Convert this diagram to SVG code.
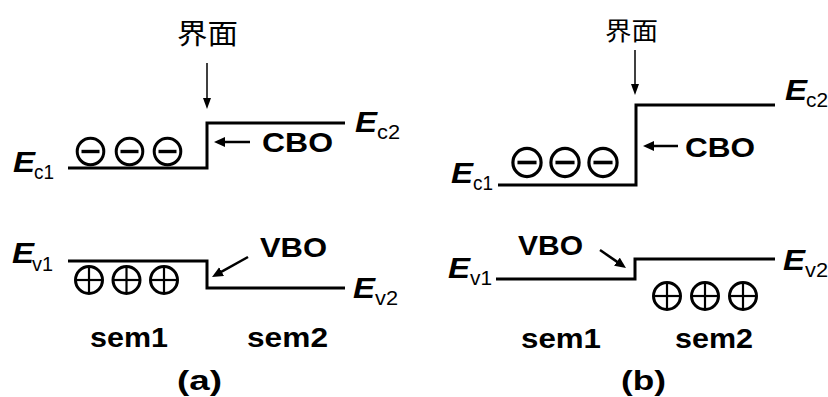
<svg xmlns="http://www.w3.org/2000/svg" width="828" height="397" viewBox="0 0 828 397">
<style>
.band{fill:none;stroke:#000;stroke-width:3;stroke-linejoin:miter}
.ptr{fill:none;stroke:#000;stroke-width:2.5}
.thin{fill:none;stroke:#000;stroke-width:1.5}
.E{font-family:"Liberation Sans",Arial,sans-serif;font-weight:bold;font-style:italic;font-size:30px;fill:#000}
.sub{font-family:"Liberation Sans",Arial,sans-serif;font-size:20px;fill:#000}
.lbl{font-family:"Liberation Sans",Arial,sans-serif;font-weight:bold;font-size:28px;fill:#000}
.cjk{font-family:"Noto Sans CJK SC","Noto Sans CJK JP",sans-serif;fill:#000}
.ring{fill:none;stroke:#000;stroke-width:3}
.minus{stroke:#000;stroke-width:3.4}
.plus{stroke:#000;stroke-width:2.2}
</style>
<defs>
<marker id="ahBig" markerUnits="userSpaceOnUse" markerWidth="12" markerHeight="11" refX="3" refY="5" orient="auto">
<path d="M0,0 L11,5 L0,10 z" fill="#000"/>
</marker>
<marker id="ahThin" markerUnits="userSpaceOnUse" markerWidth="12" markerHeight="9" refX="3" refY="4" orient="auto">
<path d="M0,0 L11,4 L0,8 z" fill="#000"/>
</marker>
<g id="neg">
<circle cx="0" cy="0" r="13.3" class="ring"/>
<line x1="-9" y1="0" x2="9" y2="0" class="minus"/>
</g>
<g id="pos">
<circle cx="0" cy="0" r="13.5" class="ring"/>
<line x1="-13.5" y1="0" x2="13.5" y2="0" class="plus"/>
<line x1="0" y1="-13.5" x2="0" y2="13.5" class="plus"/>
</g>
</defs>
<rect width="828" height="397" fill="#fff"/>

<!-- Panel (a) -->
<g id="a-bands">
<path class="band" d="M68,168 H207 V123 H345"/>
<path class="band" d="M68,261 H207 V288 H345"/>
</g>
<g id="a-interface">
<text class="cjk" x="177" y="44" font-size="28" textLength="61" lengthAdjust="spacingAndGlyphs">界面</text>
</g>
<g id="a-electrons">
<use href="#neg" x="90.5" y="151.5"/>
<use href="#neg" x="129.5" y="151.5"/>
<use href="#neg" x="167.5" y="151.5"/>
</g>
<g id="a-holes">
<use href="#pos" x="89" y="280"/>
<use href="#pos" x="126.5" y="280"/>
<use href="#pos" x="164" y="280"/>
</g>
<g id="a-Ec1"><text class="E" x="13" y="172" textLength="22" lengthAdjust="spacingAndGlyphs">E</text><text class="sub" x="34" y="179" textLength="20" lengthAdjust="spacingAndGlyphs">c1</text></g>
<g id="a-Ec2"><text class="E" x="355" y="132" textLength="22" lengthAdjust="spacingAndGlyphs">E</text><text class="sub" x="377" y="139" textLength="23" lengthAdjust="spacingAndGlyphs">c2</text></g>
<g id="a-Ev1"><text class="E" x="12" y="263" textLength="22" lengthAdjust="spacingAndGlyphs">E</text><text class="sub" x="32" y="271" textLength="21" lengthAdjust="spacingAndGlyphs">v1</text></g>
<g id="a-Ev2"><text class="E" x="353" y="298" textLength="22" lengthAdjust="spacingAndGlyphs">E</text><text class="sub" x="375" y="305" textLength="23" lengthAdjust="spacingAndGlyphs">v2</text></g>
<g id="a-CBO"><text class="lbl" x="262" y="152" textLength="71" lengthAdjust="spacingAndGlyphs">CBO</text></g>
<g id="a-VBO"><text class="lbl" x="260" y="257" textLength="67" lengthAdjust="spacingAndGlyphs">VBO</text></g>
<g id="a-sem1"><text class="lbl" x="90" y="347" textLength="78" lengthAdjust="spacingAndGlyphs">sem1</text></g>
<g id="a-sem2"><text class="lbl" x="247" y="347" textLength="81" lengthAdjust="spacingAndGlyphs">sem2</text></g>
<g id="a-caption"><text class="lbl" x="177" y="390" textLength="45" lengthAdjust="spacingAndGlyphs">(a)</text></g>

<!-- Panel (b) -->
<g id="b-bands">
<path class="band" d="M498,185 H636 V105 H775"/>
<path class="band" d="M496,279 H635 V259 H775"/>
</g>
<g id="b-interface">
<text class="cjk" x="605" y="40" font-size="25" textLength="53" lengthAdjust="spacingAndGlyphs">界面</text>
</g>
<g id="b-electrons">
<use href="#neg" x="527" y="162.5" transform="translate(527,162.5) scale(1.06) translate(-527,-162.5)"/>
<use href="#neg" x="565" y="162.5" transform="translate(565,162.5) scale(1.06) translate(-565,-162.5)"/>
<use href="#neg" x="603" y="162.5" transform="translate(603,162.5) scale(1.06) translate(-603,-162.5)"/>
</g>
<g id="b-holes">
<use href="#pos" x="667" y="296"/>
<use href="#pos" x="705" y="296"/>
<use href="#pos" x="743" y="296"/>
</g>
<g id="b-Ec1"><text class="E" x="451" y="183" textLength="22" lengthAdjust="spacingAndGlyphs">E</text><text class="sub" x="473" y="190" textLength="20" lengthAdjust="spacingAndGlyphs">c1</text></g>
<g id="b-Ec2"><text class="E" x="785" y="100" textLength="22" lengthAdjust="spacingAndGlyphs">E</text><text class="sub" x="806" y="107" textLength="22" lengthAdjust="spacingAndGlyphs">c2</text></g>
<g id="b-Ev1"><text class="E" x="448" y="278" textLength="22" lengthAdjust="spacingAndGlyphs">E</text><text class="sub" x="470" y="285" textLength="22" lengthAdjust="spacingAndGlyphs">v1</text></g>
<g id="b-Ev2"><text class="E" x="783" y="270" textLength="22" lengthAdjust="spacingAndGlyphs">E</text><text class="sub" x="805" y="277" textLength="23" lengthAdjust="spacingAndGlyphs">v2</text></g>
<g id="b-CBO"><text class="lbl" x="685" y="157" textLength="70" lengthAdjust="spacingAndGlyphs">CBO</text></g>
<g id="b-VBO"><text class="lbl" x="518" y="255" textLength="65" lengthAdjust="spacingAndGlyphs">VBO</text></g>
<g id="b-sem1"><text class="lbl" x="521" y="348" textLength="80" lengthAdjust="spacingAndGlyphs">sem1</text></g>
<g id="b-sem2"><text class="lbl" x="675" y="348" textLength="78" lengthAdjust="spacingAndGlyphs">sem2</text></g>
<g id="b-caption"><text class="lbl" x="621" y="390" textLength="45" lengthAdjust="spacingAndGlyphs">(b)</text></g>

<g id="connectors">
<line class="thin" x1="207" y1="63" x2="207" y2="101" marker-end="url(#ahThin)"/>
<line class="ptr" x1="250" y1="142" x2="222" y2="142" marker-end="url(#ahBig)"/>
<line class="ptr" x1="248" y1="257" x2="219" y2="273.1" marker-end="url(#ahBig)"/>
<line class="thin" x1="635" y1="50" x2="635" y2="87" marker-end="url(#ahThin)"/>
<line class="ptr" x1="678" y1="146" x2="651" y2="146" marker-end="url(#ahBig)"/>
<line class="ptr" x1="600" y1="250" x2="619.4" y2="263.4" marker-end="url(#ahBig)"/>
</g>
</svg>
